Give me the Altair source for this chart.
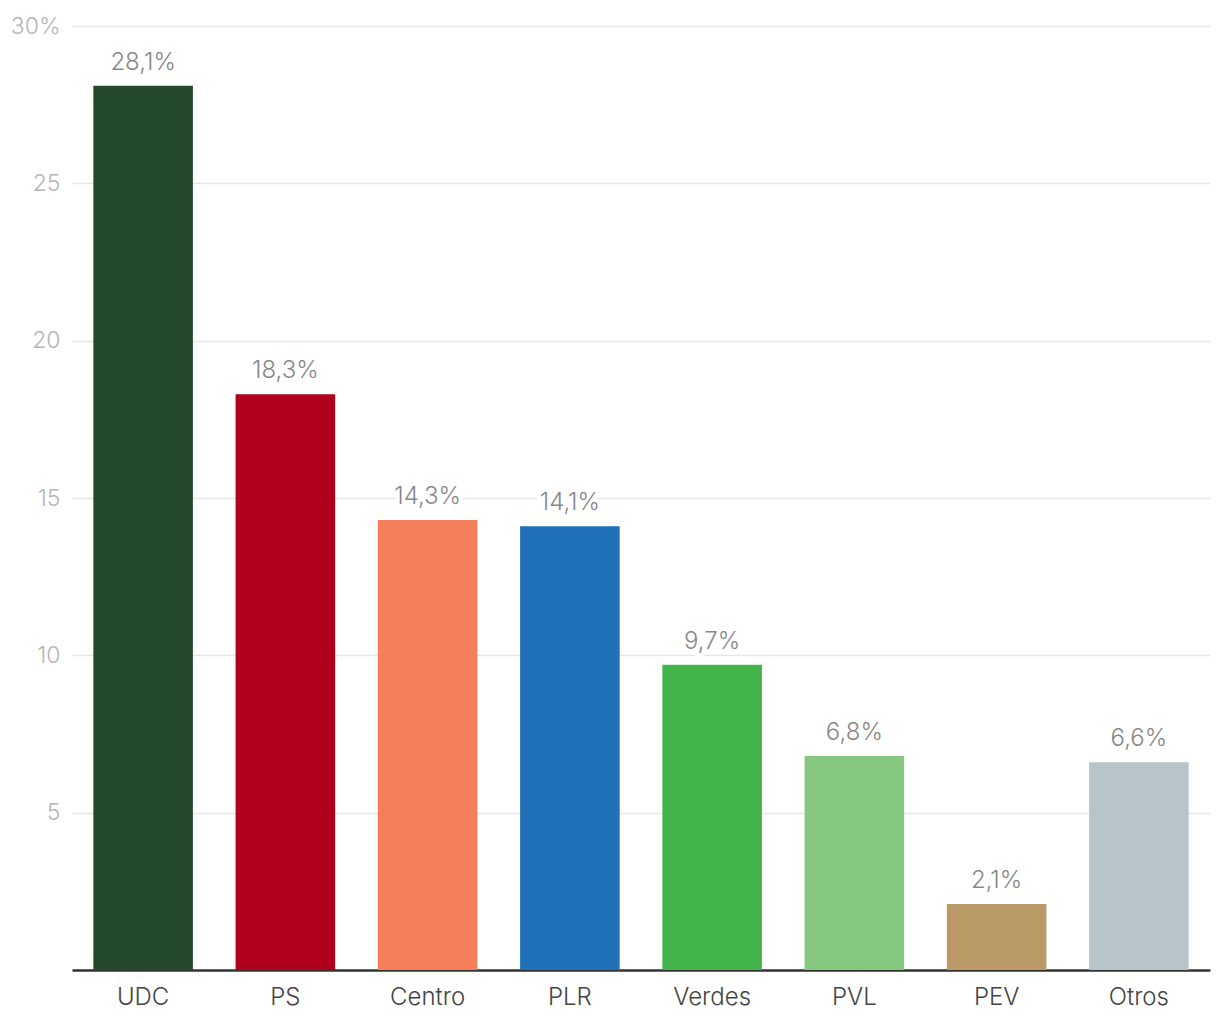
import altair as alt
import pandas as pd

parties = ["UDC", "PS", "Centro", "PLR", "Verdes", "PVL", "PEV", "Otros"]
values = [28.1, 18.3, 14.3, 14.1, 9.7, 6.8, 2.1, 6.6]
colors = ["#254a2b", "#b0001e", "#f47f5a", "#2171b8", "#43b44a", "#87c881", "#b99a67", "#b7c5c9"]

df = pd.DataFrame({
    "party": parties,
    "value": values,
    "label": [f"{v:.1f}".replace(".", ",") + "%" for v in values],
})

FONT = "Inter"

x = alt.X("party:N", sort=parties, title=None,
          scale=alt.Scale(paddingInner=0.3, paddingOuter=0.15),
          axis=alt.Axis(labelAngle=0, labelFontSize=24, labelColor="#444444",
                        labelFont=FONT, labelFontWeight=300, labelPadding=15,
                        ticks=False, domainColor="#333333", domainWidth=2.5,
                        grid=False))
y = alt.Y("value:Q", title=None,
          scale=alt.Scale(domain=[0, 30], nice=False),
          axis=alt.Axis(values=[5, 10, 15, 20, 25, 30], labelFontSize=23,
                        labelColor="#b5b5b5", labelFont=FONT, labelFontWeight=300,
                        labelPadding=12, ticks=False, domain=False,
                        gridColor="#e6e6e6", gridWidth=1.5,
                        labelExpr="datum.value == 30 ? '30%' : datum.label"))

base = alt.Chart(df).encode(x=x, y=y)

bars = base.mark_bar().encode(
    color=alt.Color("party:N", scale=alt.Scale(domain=parties, range=colors), legend=None)
)

halo = base.mark_text(dy=-16, baseline="alphabetic", fontSize=24, font=FONT,
                      fontWeight=300, color="white", stroke="white",
                      strokeWidth=8).encode(text="label:N")
text = base.mark_text(dy=-16, baseline="alphabetic", fontSize=24, font=FONT,
                      fontWeight=300, color="#888888").encode(text="label:N")

chart = alt.layer(bars, halo, text).properties(
    width=1138, height=944,
    background="white",
    autosize=alt.AutoSizeParams(type="none"),
    padding={"left": 72, "top": 26, "right": 10, "bottom": 50},
).configure_view(strokeWidth=0, stroke="transparent")

chart.save("out.html", embed_options={"renderer": "svg", "actions": False})
